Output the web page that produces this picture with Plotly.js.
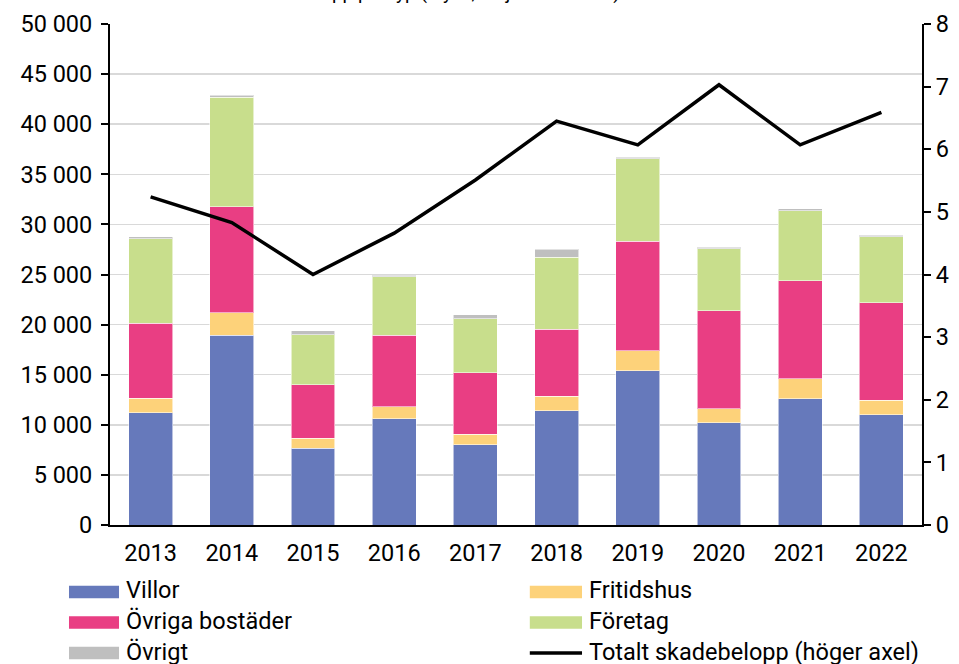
<!DOCTYPE html>
<html>
<head>
<meta charset="utf-8">
<script src="https://cdn.plot.ly/plotly-3.0.1.min.js"></script>
<style>html,body{margin:0;padding:0;background:#fff;} #chart{width:959px;height:664px;}</style>
</head>
<body>
<div id="chart"></div>
<script>
const years = ['2013','2014','2015','2016','2017','2018','2019','2020','2021','2022'];
const villor = [11200, 18960, 7650, 10600, 8020, 11400, 15370, 10210, 12610, 11010];
const fritidshus = [1450, 2230, 1000, 1200, 1030, 1430, 2030, 1400, 1990, 1430];
const ovrigaBostader = [7500, 10550, 5350, 7150, 6150, 6720, 10940, 9780, 9780, 9750];
const foretag = [8400, 10950, 4990, 5820, 5390, 7190, 8190, 6160, 6990, 6590];
const ovrigt = [200, 200, 400, 170, 400, 790, 170, 160, 170, 160];
const totaltSkadebelopp = [5.24, 4.83, 4.00, 4.66, 5.51, 6.45, 6.07, 7.03, 6.07, 6.59];

const leftTickVals = [0, 5000, 10000, 15000, 20000, 25000, 30000, 35000, 40000, 45000, 50000];
const leftTickText = ['0', '5 000', '10 000', '15 000', '20 000', '25 000', '30 000', '35 000', '40 000', '45 000', '50 000'];
const rightTickVals = [0, 1, 2, 3, 4, 5, 6, 7, 8];

const seriesNames = ['Villor', 'Fritidshus', 'Övriga bostäder', 'Företag', 'Övrigt'];
const lineName = 'Totalt skadebelopp (höger axel)';
const titleText = 'Antal skador och totalt skadebelopp per typ (styck, miljarder kronor)';

const colors = ['#6679BB', '#FDD27A', '#E93E83', '#C8DE8C', '#BFBFBF'];
const seriesData = [villor, fritidshus, ovrigaBostader, foretag, ovrigt];

const font = 'Roboto, "Liberation Sans", Arial, sans-serif';
const fs = 23.5;

const traces = seriesData.map((vals, i) => ({
  type: 'bar', x: years, y: vals, name: seriesNames[i],
  marker: {color: colors[i], line: {color: 'rgba(255,255,255,0.55)', width: 1}},
  showlegend: false, hoverinfo: 'skip'
}));
traces.push({
  type: 'scatter', mode: 'lines', x: years, y: totaltSkadebelopp, yaxis: 'y2',
  name: lineName, line: {color: '#000', width: 3.5}, showlegend: false, hoverinfo: 'skip'
});

// Custom legend (two columns)
const legendItems = seriesNames.map((n, i) => ({name: n, color: colors[i], kind: 'box'}));
legendItems.push({name: lineName, color: '#000', kind: 'line'});
const colX = [[-0.0505, 0.0111, 0.0175], [0.517, 0.5813, 0.588]];
const rowY = [-0.1337, -0.1946, -0.2555];
const shapes = [];
const annotations = [];
legendItems.forEach((it, i) => {
  const c = colX[i % 2], r = rowY[Math.floor(i / 2)];
  if (it.kind === 'box') {
    shapes.push({type: 'rect', xref: 'paper', yref: 'paper', x0: c[0], x1: c[1], y0: r - 0.0125, y1: r + 0.0125,
      fillcolor: it.color, line: {width: 0}});
  } else {
    shapes.push({type: 'line', xref: 'paper', yref: 'paper', x0: c[0], x1: c[1], y0: r, y1: r,
      line: {color: it.color, width: 3.5}});
  }
  annotations.push({xref: 'paper', yref: 'paper', x: c[2], y: r + 0.003, xanchor: 'left', yanchor: 'middle',
    text: it.name, showarrow: false, font: {family: font, size: fs, color: '#000'}});
});
annotations.push({xref: 'paper', yref: 'paper', x: 0.277, y: 1.035, xanchor: 'center', yanchor: 'bottom',
  text: titleText, showarrow: false, font: {family: font, size: 19, color: '#000'}});

const layout = {
  width: 959, height: 664,
  margin: {l: 110, r: 37, t: 24, b: 139, pad: 0},
  paper_bgcolor: '#fff', plot_bgcolor: '#fff',
  barmode: 'stack', bargap: 0.46,
  font: {family: font, size: fs, color: '#000'},
  xaxis: {type: 'category', showline: true, linecolor: '#000', linewidth: 2, ticks: '',
    tickfont: {size: fs}, showgrid: false, zeroline: false, fixedrange: true, ticklabelstandoff: 6},
  yaxis: {range: [0, 50000], tickvals: leftTickVals, ticktext: leftTickText, showline: true,
    linecolor: '#000', linewidth: 2, ticks: 'outside', ticklen: 7, tickwidth: 2, tickcolor: '#000',
    gridcolor: '#D9D9D9', gridwidth: 1.5, zeroline: false, tickfont: {size: fs}, ticklabelstandoff: 4},
  yaxis2: {range: [0, 8], tickvals: rightTickVals, overlaying: 'y', side: 'right', showline: true,
    linecolor: '#000', linewidth: 2, ticks: 'outside', ticklen: 7, tickwidth: 2, tickcolor: '#000',
    showgrid: false, zeroline: false, tickfont: {size: fs}},
  shapes: shapes, annotations: annotations, showlegend: false
};

Plotly.newPlot('chart', traces, layout, {displayModeBar: false, staticPlot: true});
</script>
</body>
</html>
